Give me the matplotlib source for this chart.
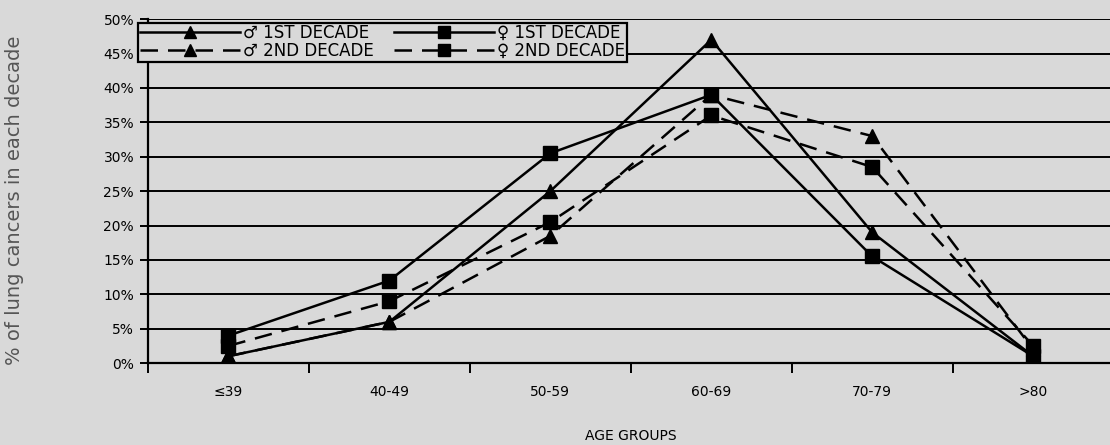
import matplotlib
matplotlib.use("Agg")
from matplotlib import pyplot as plt

groups = ["≤39", "40-49", "50-59", "60-69", "70-79", ">80"]
male_1st = [1, 6, 25, 47, 19, 1]
male_2nd = [1, 6, 18.5, 39, 33, 2]
female_1st = [4, 12, 30.5, 39, 15.5, 1]
female_2nd = [2.5, 9, 20.5, 36, 28.5, 2.5]

bg = "#d9d9d9"
fig = plt.figure(figsize=(11.1, 4.45), dpi=100, facecolor=bg)
ax = fig.add_axes([0.1333, 0.184, 0.870, 0.773], facecolor=bg)

x = list(range(len(groups)))
dash = (0, (7, 4))
ax.plot(x, male_1st, color="black", lw=1.8, marker="^", ms=10, label="♂ 1ST DECADE")
ax.plot(x, male_2nd, color="black", lw=1.8, ls=dash, marker="^", ms=10, label="♂ 2ND DECADE")
ax.plot(x, female_1st, color="black", lw=1.8, marker="s", ms=10, label="♀ 1ST DECADE")
ax.plot(x, female_2nd, color="black", lw=1.8, ls=dash, marker="s", ms=10, label="♀ 2ND DECADE")

ax.set_xlim(-0.5, len(groups) - 0.5)
ax.set_ylim(0, 50)
ax.set_yticks(range(0, 51, 5))
ax.set_yticklabels([f"{v}%" for v in range(0, 51, 5)], fontsize=10)
ax.yaxis.grid(True, color="black", lw=1.4)
ax.set_axisbelow(True)

ax.set_xticks([i - 0.5 for i in range(len(groups) + 1)])
ax.set_xticklabels([])
ax.set_xticks(x, minor=True)
ax.set_xticklabels(groups, minor=True, fontsize=10)
ax.tick_params(axis="x", which="minor", length=0, pad=16)
ax.tick_params(axis="x", which="major", length=7, width=1.4, direction="out")
ax.tick_params(axis="y", length=6, width=1.4, direction="out", pad=4)

for s in ["top", "right"]:
    ax.spines[s].set_visible(False)
ax.spines["left"].set_linewidth(1.6)
ax.spines["bottom"].set_linewidth(1.6)

ax.set_xlabel("AGE GROUPS", fontsize=10, labelpad=21)
fig.text(0.013, 0.55, "% of lung cancers in each decade", rotation=90,
         va="center", ha="center", fontsize=14, color="#555555")

leg = ax.legend(ncol=2, loc="upper left", bbox_to_anchor=(-0.012, 0.995),
                fontsize=12, frameon=True, fancybox=False, handlelength=6,
                markerscale=0.8, borderpad=0.1, labelspacing=0.0,
                columnspacing=1.2, handletextpad=0.2, borderaxespad=0.1)
leg.get_frame().set_edgecolor("black")
leg.get_frame().set_facecolor(bg)
leg.get_frame().set_linewidth(1.6)
leg.get_frame().set_alpha(1)

fig.savefig("out.png", dpi=100, facecolor=bg)
